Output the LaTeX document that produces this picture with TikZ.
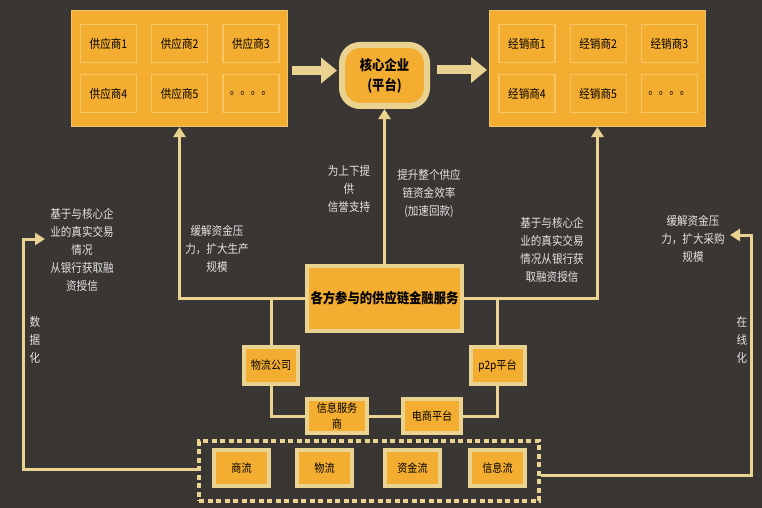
\documentclass[tikz,border=0pt]{standalone}
\usepackage{fontspec}
\setmainfont{Noto Sans CJK SC}[FakeStretch=0.88]
\usepackage{xcolor}
\usetikzlibrary{arrows.meta, positioning}

\definecolor{bgdark}{HTML}{3A3633}
\definecolor{orng}{HTML}{F3AD30}
\definecolor{beige}{HTML}{EAD391}
\definecolor{cellline}{HTML}{F8C563}
\definecolor{notetext}{HTML}{E4E4E4}

\begin{document}
\begin{tikzpicture} [
	x=1pt, y=-1pt, % one unit is one pixel, y runs downwards
	group/.style={fill=orng, draw=beige!60!orng, line width=1pt, minimum width=216pt, minimum height=116pt},
	cell/.style={fill=orng, draw=cellline, line width=1.2pt, minimum width=56pt, minimum height=38pt, font=\fontsize{12}{14}\selectfont},
	core/.style={fill=orng, draw=beige, line width=6pt, rounded corners=18pt, minimum width=85pt, minimum height=61pt, align=center, font=\bfseries\fontsize{14}{20}\selectfont},
	service/.style={fill=orng, draw=beige, line width=3.5pt, minimum width=155pt, minimum height=65pt, font=\bfseries\fontsize{14}{16}\selectfont},
	party/.style={fill=orng, draw=beige, line width=4pt, minimum width=54pt, minimum height=37pt, align=center, font=\fontsize{11.5}{16}\selectfont},
	flowbox/.style={fill=orng, draw=beige, line width=4pt, minimum width=55pt, minimum height=36pt, font=\fontsize{11.5}{13}\selectfont},
	dashbox/.style={draw=beige, line width=4pt, dash pattern=on 5pt off 3.5pt, minimum width=340pt, minimum height=60pt},
	note/.style={text=notetext, align=center, inner sep=0pt, font=\fontsize{12}{18}\selectfont},
	link/.style={draw=beige, line width=3pt},
	uparrow/.style={link, -{Triangle[width=12pt,length=10pt]}},
	fat/.style={draw=beige, line width=9pt, -{Triangle[width=25pt,length=16pt]}},
	]
	\fill[bgdark] (0,0) rectangle (762,508);

	% suppliers
	\node[group] (sup) at (179.5,68.5) {};
	\node[cell] (s1) at (108.5,43.5) {供应商1};
	\node[cell, right=14pt of s1] (s2) {供应商2};
	\node[cell, right=14pt of s2] (s3) {供应商3};
	\node[cell, below=11pt of s1] (s4) {供应商4};
	\node[cell, below=11pt of s2] (s5) {供应商5};
	\node[cell, below=11pt of s3] (s6) {。。。。};

	% distributors
	\node[group] (dis) at (597.5,68.5) {};
	\node[cell] (d1) at (527,43.5) {经销商1};
	\node[cell, right=14pt of d1] (d2) {经销商2};
	\node[cell, right=14pt of d2] (d3) {经销商3};
	\node[cell, below=11pt of d1] (d4) {经销商4};
	\node[cell, below=11pt of d2] (d5) {经销商5};
	\node[cell, below=11pt of d3] (d6) {。。。。};

	\node[core] (core) at (384.5,75.5) {核心企业\\(平台)};
	\node[service] (service) at (384.5,298.5) {各方参与的供应链金融服务};

	\node[party] (wuliu) at (271,365.5) {物流公司};
	\node[party] (p2p) at (497.5,365.5) {p2p平台};
	\node[party, minimum width=60pt, minimum height=34pt, inner sep=1pt] (xinxi) at (337,416) {信息服务\\商};
	\node[party, minimum width=58pt, minimum height=34pt] (dianshang) at (432,416) {电商平台};

	\node[dashbox] (flows) at (369,471) {};
	\node[flowbox] (shang) at (241.5,468) {商流};
	\node[flowbox] (wu) at (324.5,468) {物流};
	\node[flowbox] (zijin) at (412.5,468) {资金流};
	\node[flowbox] (xi) at (497.5,468) {信息流};

	% texts
	\node[note] (lnote) at (82,250) {基于与核心企\\业的真实交易\\情况\\从银行获取融\\资授信};
	\node[note] (shuju) at (35,340) {数\\据\\化};
	\node[note] (supnote) at (217,249) {缓解资金压\\力，扩大生产\\规模};
	\node[note] (credit) at (349,189) {为上下提\\供\\信誉支持};
	\node[note] (speed) at (429,194) {提升整个供应\\链资金效率\\(加速回款)};
	\node[note] (rnote) at (552,249.5) {基于与核心企\\业的真实交易\\情况从银行获\\取融资授信};
	\node[note] (disnote) at (693,239) {缓解资金压\\力，扩大采购\\规模};
	\node[note] (zaixian) at (742,340) {在\\线\\化};

	\coordinate (lout) at (197,469);
	\coordinate (lbend) at (23,239);
	\coordinate (ltip) at (45,239);
	\coordinate (rout) at (541,475);
	\coordinate (rbend) at (751,235);
	\coordinate (rtip) at (730,235);

	% connectors
	\draw[fat, shorten <=4pt, shorten >=2pt] ([yshift=-2pt]sup.east) -- ([yshift=-2pt]sup.east -| core.west);
	\draw[fat, shorten <=7pt, shorten >=2pt] ([yshift=-1.5pt]dis.west -| core.east) -- ([yshift=-1.5pt]dis.west);
	\draw[uparrow] (service.north) -- (core.south);
	\draw[uparrow] (service.west) -| (sup.south);
	\draw[uparrow] (service.east) -| (dis.south);
	\draw[link] (wuliu.north |- service.west) -- (wuliu.north);
	\draw[link] (p2p.north |- service.east) -- (p2p.north);
	\draw[link] (wuliu.south) |- (xinxi.west);
	\draw[link] (xinxi.east) -- (dianshang.west);
	\draw[link] (p2p.south) |- (dianshang.east);
	\draw[uparrow] (lout) -| (lbend) -- (ltip);
	\draw[uparrow] (rout) -| (rbend) -- (rtip);
\end{tikzpicture}
\end{document}
